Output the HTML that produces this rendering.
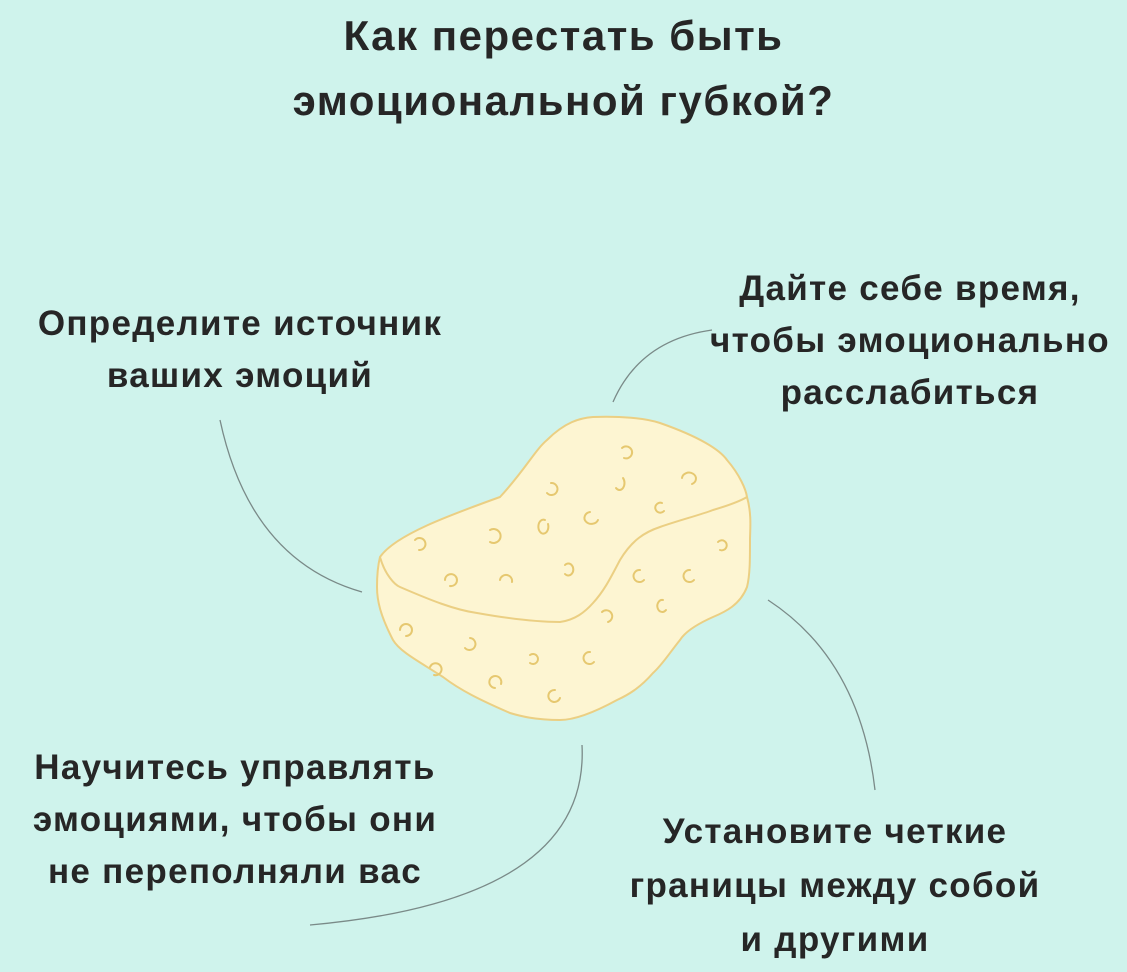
<!DOCTYPE html>
<html><head><meta charset="utf-8"><style>
body{margin:0;width:1127px;height:972px;background:#cff3ec;position:relative;overflow:hidden;font-family:"Liberation Sans",sans-serif;color:#262626;font-weight:bold}
.t{position:absolute;text-align:center;white-space:nowrap;font-size:35px;letter-spacing:1.3px;line-height:52px}
</style></head><body>
<svg width="1127" height="972" style="position:absolute;left:0;top:0">
<g fill="none" stroke="#7a8a88" stroke-width="1.3">
<path d="M220 420 Q250 560 362 592"/>
<path d="M613 402 Q640 340 712 330"/>
<path d="M768 600 Q860 660 875 790"/>
<path d="M582 745 Q590 900 310 925"/>
</g>
<path d="M380 557 C395 535 450 515 500 497 C525 470 535 450 547 440 C565 422 580 418 593 417 C620 416 645 418 660 423 C700 437 720 450 727 460 C740 475 746 490 747 497 C752 515 750 530 750 540 C750 560 750 575 747 587 C740 605 725 612 713 617 C695 625 685 632 680 640 C668 655 662 665 653 673 C640 688 628 695 617 700 C595 712 575 720 560 720 C535 720 520 716 510 713 C480 700 460 690 443 677 C420 662 400 652 393 640 C380 615 377 600 377 587 C377 575 378 565 380 557 Z" fill="#fdf5d2" stroke="#ebcf83" stroke-width="2"/>
<path d="M380 557 C385 575 395 585 400 587 C430 600 455 610 477 613 C505 618 535 622 560 622 C575 620 585 612 593 603 C605 590 612 575 620 560 C632 540 645 532 660 527 C680 520 700 515 713 510 C730 505 742 500 747 497" fill="none" stroke="#ebcf83" stroke-width="2"/>
<g fill="none" stroke="#e6c870" stroke-width="2" stroke-linecap="round">
<path d="M622 448 a6 6 0 1 1 2 10"/><path d="M551 483 a6 6 0 1 1 -4 10"/><path d="M623 478 a5 7 0 0 1 -7 10"/>
<path d="M682 478 a7 6 0 1 1 10 6"/><path d="M662 503 a5 5 0 1 0 2 8"/><path d="M545 520 a5 7 0 1 0 3 4"/>
<path d="M590 512 a7 6 0 1 0 8 8"/><path d="M415 540 a6 6 0 1 1 4 10"/><path d="M490 530 a7 7 0 1 1 0 12"/>
<path d="M718 542 a5 5 0 1 1 2 8"/><path d="M445 580 a6 6 0 1 1 5 6"/><path d="M500 580 a6 6 0 1 1 12 2"/>
<path d="M565 565 a5 6 0 1 1 0 9"/><path d="M640 570 a6 6 0 1 0 4 10"/><path d="M690 570 a6 6 0 1 0 4 10"/>
<path d="M602 612 a6 6 0 1 1 6 10"/><path d="M663 600 a5 6 0 1 0 3 10"/><path d="M400 630 a6 6 0 1 1 6 6"/>
<path d="M470 638 a6 6 0 1 1 -5 10"/><path d="M530 655 a5 5 0 1 1 0 8"/><path d="M590 652 a6 6 0 1 0 4 10"/>
<path d="M430 667 a6 6 0 1 1 4 8"/><path d="M495 688 a6 6 0 1 1 6 -4"/><path d="M555 690 a6 6 0 1 0 5 8"/>
</g>
</svg>
<div class="t" style="left:0;width:1127px;top:3px;font-size:42px;letter-spacing:1.5px;line-height:65px">Как перестать быть<br>эмоциональной губкой?</div>
<div class="t" style="left:0;width:480px;top:298px">Определите источник<br>ваших эмоций</div>
<div class="t" style="left:680px;width:460px;top:263px">Дайте себе время,<br>чтобы эмоционально<br>расслабиться</div>
<div class="t" style="left:0;width:470px;top:742px">Научитесь управлять<br>эмоциями, чтобы они<br>не переполняли вас</div>
<div class="t" style="left:605px;width:460px;top:805px;line-height:54px">Установите четкие<br>границы между собой<br>и другими</div>
</body></html>
